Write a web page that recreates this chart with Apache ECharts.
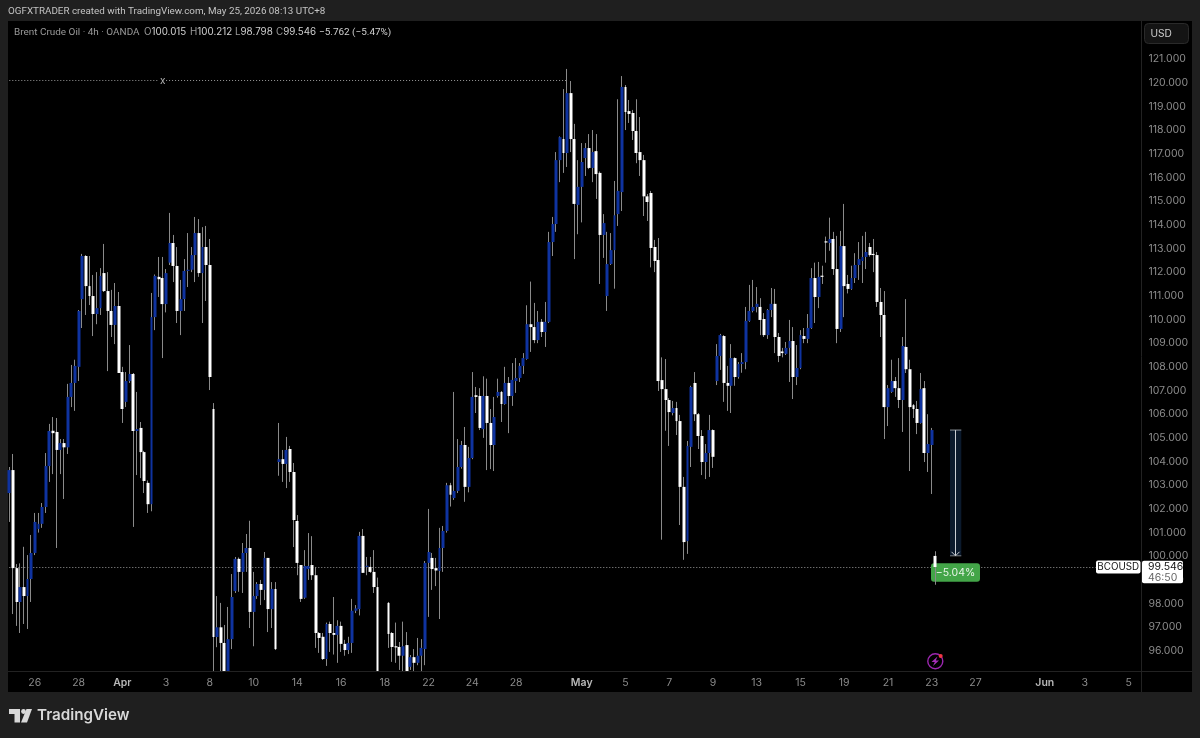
<!DOCTYPE html>
<html>
<head>
<meta charset="utf-8">
<title>Brent Crude Oil 4h</title>
<script src="https://cdn.jsdelivr.net/npm/echarts@6/dist/echarts.min.js"></script>
<style>html,body{margin:0;padding:0;background:#1f1f1f}#chart{width:1200px;height:738px}</style>
</head>
<body>
<div id="chart"></div>
<script>
// Four-hour OHLC prices for BCOUSD, oldest bar first.
const opens = [
102.67,103.64,99.5,98.07,98.7,98.32,99.04,100.14,101.15,101.37,
102.08,103.81,105.3,105.25,104.49,104.78,104.6,106.73,107.32,108.0,
110.86,112.68,111.41,110.99,110.23,110.48,111.96,111.2,110.36,109.77,
110.57,107.78,106.52,107.4,107.7,105.29,105.42,104.4,103.1,102.2,
110.1,111.8,111.75,110.65,112.4,113.23,112.26,110.36,110.86,112.05,
112.1,112.72,113.65,111.96,113.06,112.3,106.22,96.59,97.0,96.34,
94.9,96.5,98.53,99.89,99.34,100.14,100.35,97.65,98.32,98.83,
98.58,99.93,97.77,98.62,103.98,104.1,103.9,104.53,103.56,101.49,
99.63,98.25,99.46,99.63,99.2,96.76,96.6,95.66,97.14,96.76,
96.68,97.06,96.3,96.04,96.34,97.7,97.77,100.86,99.55,99.55,
99.34,98.7,94.8,94.4,98.03,96.76,96.2,96.17,95.8,96.25,
95.33,95.74,95.5,95.8,96.08,99.72,99.93,99.5,99.38,100.35,
101.07,103.0,102.46,102.76,103.77,104.7,102.93,104.15,106.8,106.77,
105.37,106.77,105.63,104.7,106.77,106.94,106.43,107.32,106.77,107.4,
107.53,108.04,108.33,109.8,109.68,109.13,109.9,109.47,109.9,113.27,
114.03,116.73,117.62,117.03,119.56,117.62,114.84,115.6,116.82,117.24,
116.4,117.11,116.19,113.57,110.99,112.34,112.93,114.45,115.38,119.82,
118.8,118.72,117.96,117.07,116.73,115.2,115.34,113.06,112.51,107.44,
107.06,106.6,106.05,106.26,105.71,102.93,100.64,104.62,107.32,106.0,
105.08,103.98,104.36,105.33,107.4,108.46,109.3,107.32,107.2,108.37,
107.57,108.12,108.2,109.94,110.36,110.53,110.53,110.02,109.34,110.4,
110.66,109.26,108.65,108.55,108.8,109.09,107.57,107.95,109.3,109.18,
109.64,111.75,110.95,111.85,113.3,113.23,113.4,112.13,109.6,113.1,
111.5,111.29,111.75,112.3,112.47,112.64,113.06,112.77,112.72,110.74,
110.19,106.3,106.94,107.4,107.1,106.6,108.84,107.9,106.38,106.22,
105.63,107.1,104.36,104.7,100.015];
const closes = [
103.64,99.5,98.07,98.7,98.32,99.04,100.14,101.45,101.37,102.08,
103.81,105.29,105.2,104.49,104.78,104.6,106.73,107.32,108.04,110.36,
112.68,111.41,110.99,110.23,110.48,111.84,111.2,110.36,109.77,110.57,
107.74,106.22,107.4,107.7,105.29,105.37,104.4,103.18,102.2,110.1,
111.84,111.7,110.65,111.96,113.23,112.26,110.36,110.86,112.05,112.1,
112.72,113.65,111.96,113.06,112.3,107.57,96.59,97.0,96.34,94.9,
96.5,98.28,99.89,99.34,100.14,100.35,97.65,98.32,98.83,98.58,
99.93,97.77,98.62,96.08,104.1,103.9,104.49,103.56,101.53,99.72,
98.2,99.59,99.59,99.2,96.76,96.55,95.66,97.14,96.76,96.68,
97.06,96.3,96.04,96.34,97.7,97.8,100.86,99.3,99.6,99.34,
98.7,94.8,94.4,94.9,96.72,96.17,96.15,95.8,96.2,95.1,
95.74,95.5,95.8,96.13,99.72,100.18,99.46,99.4,100.35,101.07,
103.0,102.6,102.76,103.77,104.7,102.93,104.15,106.73,106.73,105.42,
106.77,105.63,104.7,105.88,106.94,106.43,107.32,106.77,107.45,107.53,
108.04,108.37,109.8,109.68,109.13,109.9,109.47,109.9,113.27,114.03,
116.73,117.7,117.03,119.56,117.62,114.88,115.6,116.65,117.24,116.4,
117.07,116.14,113.57,114.07,112.34,112.93,114.4,115.43,119.82,118.76,
118.68,117.96,117.03,116.73,115.2,114.96,113.02,112.47,107.4,107.06,
106.6,106.09,106.26,105.71,102.93,100.6,104.66,107.15,106.0,105.08,
103.98,104.36,105.33,104.2,108.46,109.34,107.32,107.2,108.37,107.57,
108.12,108.2,109.94,110.36,110.53,110.66,109.98,109.34,110.4,110.66,
109.26,108.46,108.58,108.8,109.09,107.57,107.95,109.34,109.18,109.64,
111.75,110.95,111.8,111.8,113.25,113.4,112.13,109.6,113.1,111.41,
111.29,111.75,112.3,112.55,112.64,112.85,112.72,112.72,110.74,110.19,
106.3,107.1,107.4,107.1,106.6,108.88,107.9,106.3,106.22,105.63,
107.06,104.36,104.74,105.33,99.546];
const lows = [
101.45,97.56,97.06,96.76,97.14,96.93,98.07,100.05,101.0,101.2,
101.83,103.14,103.47,100.35,103.47,102.42,104.32,106.3,106.14,107.4,
109.64,110.19,110.61,109.3,109.8,110.19,111.16,107.82,109.26,108.96,
107.74,105.63,106.3,107.32,101.24,103.43,103.3,102.67,101.83,101.9,
109.55,110.95,108.37,110.3,112.3,111.58,109.85,109.34,110.36,111.37,
112.0,111.58,111.8,109.85,110.78,107.02,94.8,96.16,94.9,94.5,
94.5,96.08,98.45,98.5,98.45,99.34,96.97,96.2,98.2,97.94,
98.15,96.8,96.97,96.04,103.4,103.14,102.88,103.14,100.39,99.2,
98.07,98.2,99.0,99.0,96.13,95.92,95.62,95.37,95.96,95.85,
95.5,95.96,95.8,95.87,95.92,97.6,97.5,99.3,99.2,99.3,
98.45,94.5,94.0,94.2,96.13,95.54,95.5,95.2,95.1,95.0,
95.2,95.15,95.4,95.15,95.4,97.44,98.58,98.74,97.35,99.34,
101.0,102.1,102.38,102.67,103.7,102.3,102.7,104.1,106.05,105.33,
105.0,103.64,103.68,103.6,106.7,105.67,106.4,105.2,106.35,106.9,
107.36,107.7,108.3,108.63,109.0,109.0,109.26,108.84,109.85,112.68,
113.7,115.8,116.19,116.44,117.07,112.55,113.6,114.1,116.06,116.35,
115.8,115.09,111.5,112.6,110.36,112.3,111.3,113.95,114.58,118.0,
118.3,117.58,116.6,116.06,114.37,114.16,112.2,112.0,106.98,100.7,
105.3,104.66,105.95,105.12,101.32,99.85,100.1,103.77,105.71,104.53,
103.43,103.26,103.35,103.73,107.23,107.87,106.52,106.14,106.05,107.2,
107.5,107.75,107.9,109.9,110.3,110.3,109.34,109.26,109.18,110.1,
108.58,108.2,108.4,108.5,107.36,106.64,107.23,107.9,109.0,109.0,
109.6,109.85,110.48,111.5,112.4,112.9,111.88,109.0,109.47,110.1,
111.1,111.25,111.54,111.67,111.54,112.13,112.65,112.0,110.53,109.26,
104.95,105.5,106.9,106.73,106.26,105.25,107.74,103.6,105.84,105.16,
105.6,103.98,103.56,102.63,98.798];
const highs = [
103.77,104.32,99.67,99.7,100.4,100.05,100.9,101.83,101.83,102.25,
104.36,105.59,105.88,105.84,104.95,104.95,107.28,108.08,108.3,110.4,
112.77,112.72,112.68,111.88,112.0,112.17,113.19,112.0,111.25,111.54,
111.16,108.0,107.78,108.92,107.74,106.94,105.67,104.45,103.2,111.12,
111.9,112.64,112.64,112.13,114.5,113.57,113.06,111.67,112.55,113.65,
113.06,114.33,114.24,113.9,113.95,113.4,106.47,98.32,98.03,97.1,
97.86,99.25,99.97,99.95,100.56,100.94,101.5,99.34,98.91,99.0,
100.18,99.93,98.91,98.91,105.63,104.49,105.04,104.66,103.94,101.74,
99.63,100.26,100.98,100.85,99.55,96.8,96.76,97.2,97.24,98.28,
97.3,97.24,96.47,96.6,98.2,97.94,101.03,101.15,99.97,99.97,
100.26,99.1,94.9,95.0,98.07,96.8,97.2,96.38,97.24,96.8,
95.83,96.08,96.55,96.5,99.8,102.0,100.14,99.93,101.2,101.28,
103.1,103.1,106.94,104.95,104.87,105.46,104.62,107.78,107.15,107.1,
107.6,107.5,106.22,106.73,107.5,106.98,108.0,107.57,108.16,108.37,
108.16,108.58,110.6,111.6,110.7,110.36,110.02,110.74,113.7,114.33,
117.07,117.73,119.73,120.58,120.07,118.26,116.73,117.45,117.45,117.83,
118.0,117.83,116.25,114.45,113.7,113.65,115.85,119.3,120.28,119.9,
119.27,118.85,119.3,118.55,116.95,115.3,115.43,113.36,113.44,108.4,
108.33,106.68,106.56,106.52,105.97,103.35,104.87,107.2,107.78,106.05,
105.33,104.74,105.97,105.36,108.96,109.39,109.34,108.04,108.96,108.4,
108.2,108.58,110.53,111.46,111.67,111.37,110.9,110.27,110.44,111.33,
111.29,109.43,108.8,109.05,109.98,109.68,108.92,109.55,109.64,110.23,
112.17,112.4,112.43,112.27,113.5,114.3,113.7,113.53,113.74,114.88,
111.88,112.27,112.8,113.27,113.53,113.7,113.23,113.4,112.85,111.33,
111.2,107.23,108.3,107.57,108.37,109.26,110.86,108.3,106.43,106.56,
107.74,107.4,106.0,105.42,100.212];

// Date labels and the bar slots they sit on; slots past the last bar are future time.
const dateLabels = ['26','28','Apr','3','8','10','14','16','18','22','24','28','May','5','7','9','13','15','19','21','23','27','Jun','3','5'];
const dateSlots = [7,19,31,43,55,67,79,91,103,115,127,139,157,169,181,193,205,217,229,241,253,265,284,295,307];
const monthLabels = ['Apr','May','Jun'];
const slotCount = 311;

const priceTicks = [96,97,98,99,100,101,102,103,104,105,106,107,108,109,110,111,112,113,114,115,116,117,118,119,120,121];
const priceMin = 95.155;
const priceMax = 122.605;

const resistanceLevel = 120.09;
const lastPrice = 99.546;
const countdown = '46:50';
const measureFrom = 105.33;
const measureTo = 100.02;
const measureText = '\u22125.04%';
const symbolName = 'BCOUSD';
const headerText = 'OGFXTRADER created with TradingView.com, May 25, 2026 08:13 UTC+8';
const titleText = 'Brent Crude Oil \u00b7 4h \u00b7 OANDA';

const categories = new Array(slotCount).fill('');
dateSlots.forEach((slot, i) => { categories[slot] = dateLabels[i]; });

const wickData = opens.map((o, i) => [o, closes[i], lows[i], highs[i]]);
const bodyData = opens.map((o, i) => [o, closes[i], Math.min(o, closes[i]), Math.max(o, closes[i])]);

const UI_FONT = 'Inter, "Liberation Sans", sans-serif';
const TEXT_FONT = 'Roboto, "Liberation Sans", sans-serif';
const chart = echarts.init(document.getElementById('chart'), null, { renderer: 'canvas' });

chart.setOption({
  animation: false,
  backgroundColor: '#1f1f1f',
  grid: { left: 7.48, top: 21, width: 1133.9, height: 650 },
  xAxis: {
    type: 'category',
    z: 10,
    data: categories,
    boundaryGap: true,
    axisLine: { show: false },
    axisTick: { show: false },
    splitLine: { show: false },
    axisLabel: {
      interval: (i, v) => v !== '',
      margin: 6,
      color: '#8b8b8b',
      fontFamily: UI_FONT,
      fontSize: 10.5,
      formatter: v => monthLabels.includes(v) ? `{m|${v}}` : v,
      rich: { m: { color: '#b8b8b8', fontWeight: 600, fontFamily: UI_FONT, fontSize: 10.5 } }
    }
  },
  yAxis: {
    type: 'value',
    position: 'right',
    min: priceMin,
    max: priceMax,
    axisLine: { show: false },
    axisTick: { show: false },
    splitLine: { show: false },
    axisLabel: {
      customValues: priceTicks,
      margin: 7,
      color: '#8b8b8b',
      fontFamily: UI_FONT,
      fontSize: 10.5,
      formatter: v => v.toFixed(3)
    }
  },
  series: [
    {
      name: 'wicks',
      type: 'candlestick',
      z: 6,
      barWidth: 1,
      data: wickData,
      silent: true,
      itemStyle: { color: '#8a8a8a', color0: '#8a8a8a', borderColor: '#8a8a8a', borderColor0: '#8a8a8a', borderWidth: 1 }
    },
    {
      name: 'bodies',
      type: 'candlestick',
      z: 7,
      barWidth: 3.4,
      data: bodyData,
      silent: true,
      itemStyle: { color: '#0f33a0', color0: '#ffffff', borderColor: '#0f33a0', borderColor0: '#ffffff', borderWidth: 0 },
      markLine: {
        silent: true,
        z: 2,
        symbol: 'none',
        animation: false,
        label: { show: false },
        lineStyle: { color: '#9a9a9a', type: [1, 2], width: 1 },
        data: [
          [{ coord: [0, resistanceLevel] }, { coord: [41, resistanceLevel] }],
          [{ coord: [43, resistanceLevel] }, { coord: [153, resistanceLevel] }],
          [{ coord: [0, lastPrice] }, { coord: [298, lastPrice] }]
        ]
      }
    }
  ]
});

// Overlays are placed from price values through the axis scale.
const py = v => chart.convertToPixel({ yAxisIndex: 0 }, v);
const bx = i => chart.convertToPixel({ xAxisIndex: 0 }, i);
const txt = (x, y, text, fill, size, extra) => ({
  type: 'text', silent: true, z: 60, x, y,
  style: Object.assign({ text, fill, font: `${(extra && extra.weight) || 400} ${size}px ${(extra && extra.family) || UI_FONT}`, textAlign: 'left', textVerticalAlign: 'middle' }, extra && extra.style)
});
const yTop = py(measureFrom), yBot = py(measureTo), yLast = py(lastPrice);

const legendParts = [
  [144, 'O', '100.015'], [190, 'H', '100.212'], [235, 'L', '98.798'], [276, 'C', '99.546']
];

const elements = [
  // chart panel, price column and time strip; the strip hides bars that run below the scale
  { type: 'rect', silent: true, z: -2, shape: { x: 8, y: 21, width: 1184, height: 671 }, style: { fill: '#000000' } },
  { type: 'rect', silent: true, z: 8, shape: { x: 8, y: 671, width: 1184, height: 21 }, style: { fill: '#000000' } },
  { type: 'line', silent: true, z: 9, shape: { x1: 1141.5, y1: 21, x2: 1141.5, y2: 692 }, style: { stroke: '#222222', lineWidth: 1 } },
  { type: 'line', silent: true, z: 9, shape: { x1: 8, y1: 671.5, x2: 1192, y2: 671.5 }, style: { stroke: '#222222', lineWidth: 1 } },

  txt(8, 12, headerText, '#c4c4c4', 9.83, { family: TEXT_FONT }),
  txt(14, 32.5, titleText, '#9a9a9a', 9.95, { family: TEXT_FONT }),
  txt(319, 32.5, '\u22125.762 (\u22125.47%)', '#d0d0d0', 9.95, { family: TEXT_FONT }),

  { type: 'rect', silent: true, z: 3, shape: { x: 1144.5, y: 23.5, width: 44, height: 20, r: 4 }, style: { fill: '#141414', stroke: '#2a2a2a', lineWidth: 1 } },
  txt(1150.5, 33.5, 'USD', '#cfcfcf', 10.2),

  txt(bx(42) - 2.5, py(resistanceLevel) + 0.5, 'x', '#b5b5b5', 10),

  // measuring tool from the swing high down to the target
  { type: 'rect', silent: true, z: 3, shape: { x: 950, y: yTop, width: 11.3, height: yBot - yTop }, style: { fill: '#0b1a2d' } },
  { type: 'line', silent: true, z: 4, shape: { x1: 950, y1: yTop, x2: 961.3, y2: yTop }, style: { stroke: '#8d9299', lineWidth: 1 } },
  { type: 'line', silent: true, z: 4, shape: { x1: 955.5, y1: yTop, x2: 955.5, y2: yBot }, style: { stroke: '#c9ced4', lineWidth: 1 } },
  { type: 'line', silent: true, z: 4, shape: { x1: 950, y1: yBot, x2: 961.3, y2: yBot }, style: { stroke: '#7a7f86', lineWidth: 1 } },
  { type: 'polyline', silent: true, z: 4, shape: { points: [[951.5, yBot - 4], [955.5, yBot], [959.5, yBot - 4]] }, style: { stroke: '#c9ced4', fill: 'none', lineWidth: 1 } },
  { type: 'rect', silent: true, z: 4, shape: { x: 931, y: yBot + 7.5, width: 49, height: 18.5, r: 3 }, style: { fill: '#43a548' } },
  { type: 'text', silent: true, z: 5, x: 955.5, y: yBot + 17, style: { text: measureText, fill: '#e8f4e8', font: `400 10.5px ${UI_FONT}`, textAlign: 'center', textVerticalAlign: 'middle' } },

  // last-price tags
  { type: 'rect', silent: true, z: 50, shape: { x: 1096, y: yLast - 6.5, width: 44.5, height: 13, r: 2 }, style: { fill: '#ffffff' } },
  txt(1118.2, yLast + 0.2, symbolName, '#111111', 9.8, { style: { textAlign: 'center' } }),
  { type: 'rect', silent: true, z: 50, shape: { x: 1142, y: yLast - 6.3, width: 41, height: 22.6, r: 2 }, style: { fill: '#ffffff' } },
  txt(1148, yLast, lastPrice.toFixed(3), '#111111', 10.5),
  txt(1148, yLast + 10.5, countdown, '#666666', 10.5),

  // event badge under the last bar
  { type: 'circle', silent: true, z: 9, shape: { cx: 935.3, cy: 661.3, r: 7.5 }, style: { fill: 'none', stroke: '#9c27b0', lineWidth: 1.4 } },
  { type: 'polygon', silent: true, z: 9, shape: { points: [[937.5, 656.5], [931.5, 662], [934.8, 662], [933, 666], [939, 660.6], [935.8, 660.6]] }, style: { fill: '#a52fb8' } },
  { type: 'circle', silent: true, z: 9, shape: { cx: 940.7, cy: 656, r: 2 }, style: { fill: '#f23645' } },

  // TradingView wordmark
  { type: 'polygon', silent: true, z: 5, shape: { points: [[9, 709], [20, 709], [20, 722.5], [14.5, 722.5], [14.5, 714], [9, 714]] }, style: { fill: '#d8d8d8' } },
  { type: 'circle', silent: true, z: 5, shape: { cx: 23.5, cy: 711.5, r: 2.4 }, style: { fill: '#d8d8d8' } },
  { type: 'polygon', silent: true, z: 5, shape: { points: [[26.5, 709], [32, 709], [27, 722.5], [21, 722.5]] }, style: { fill: '#d8d8d8' } },
  txt(37, 715.5, 'TradingView', '#d8d8d8', 15.2, { weight: 600 })
];

legendParts.forEach(([x, key, value]) => {
  elements.push({
    type: 'text', silent: true, z: 60, x, y: 32.5,
    style: {
      text: `{k|${key}}{v|${value}}`,
      textVerticalAlign: 'middle',
      rich: {
        k: { fill: '#9a9a9a', font: `400 9.8px ${UI_FONT}` },
        v: { fill: '#d0d0d0', font: `400 9.8px ${UI_FONT}` }
      }
    }
  });
});

chart.setOption({ graphic: { elements } });
</script>
</body>
</html>
